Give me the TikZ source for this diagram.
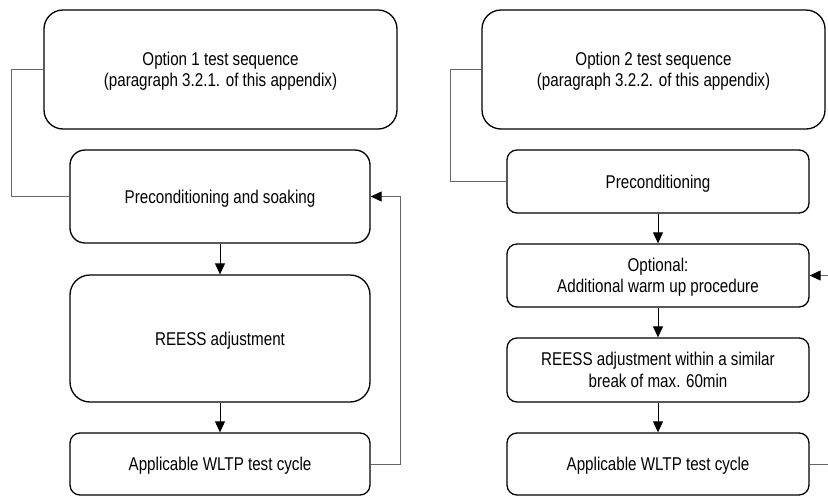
\documentclass[tikz,border=0pt]{standalone}
\usepackage{fontspec}
\setmainfont{Liberation Sans}[FakeStretch=0.82]
\usetikzlibrary{arrows.meta, positioning, calc}

\begin{document}
\begin{tikzpicture}[
    x=1pt, y=-1pt,
    box/.style={rectangle, draw=black, line width=1.3pt, rounded corners=#1, align=center, inner sep=0pt, text depth=0pt, font=\fontsize{18.5}{21.5}\selectfont},
    box/.default=10pt,
    arrow/.style={line width=1pt, -{Triangle[length=11pt,width=10pt]}},
    loop/.style={draw=black!60, line width=1pt},
    looparrow/.style={loop, -{Triangle[length=11pt,width=10pt,black]}}
]
\useasboundingbox (0,0) rectangle (828,496);

% Option 1 column
\node[box=19pt, minimum width=353pt, minimum height=119pt] (opt1) at (220.5,69.5) {Option 1 test sequence\\(paragraph 3.2.1. of this appendix)};
\node[box=15pt, minimum width=300pt, minimum height=93pt] (pre1) at (220,196.5) {Preconditioning and soaking};
\node[box=20pt, minimum width=300pt, minimum height=127pt] (adj1) at (220,338.5) {REESS adjustment};
\node[box, minimum width=300pt, minimum height=62pt] (cyc1) at (220,464) {Applicable WLTP test cycle};

% Option 2 column
\node[box=19pt, minimum width=343pt, minimum height=119pt] (opt2) at (653.5,69.5) {Option 2 test sequence\\(paragraph 3.2.2. of this appendix)};
\node[box, minimum width=302pt, minimum height=63pt] (pre2) at (658,181.5) {Preconditioning};
\node[box, minimum width=302pt, minimum height=63pt] (warm) at (658,275.5) {Optional:\\Additional warm up procedure};
\node[box, minimum width=302pt, minimum height=64pt] (adj2) at (658,370) {REESS adjustment within a similar\\break of max. 60min};
\node[box, minimum width=302pt, minimum height=62pt] (cyc2) at (658,464) {Applicable WLTP test cycle};

% Connections
\draw[arrow] (pre1) -- (adj1);
\draw[arrow] (adj1) -- (cyc1);
\draw[arrow] (pre2) -- (warm);
\draw[arrow] (warm) -- (adj2);
\draw[arrow] (adj2) -- (cyc2);

% Loops
\draw[loop] (opt1.west) -- ++(-32,0) |- (pre1.west);
\draw[looparrow] (cyc1.east) -- ++(30,0) |- (pre1.east);
\draw[loop] (opt2.west) -- ++(-31,0) |- (pre2.west);
\draw[looparrow] (cyc2.east) -- ++(30,0) |- (warm.east);

\end{tikzpicture}
\end{document}
